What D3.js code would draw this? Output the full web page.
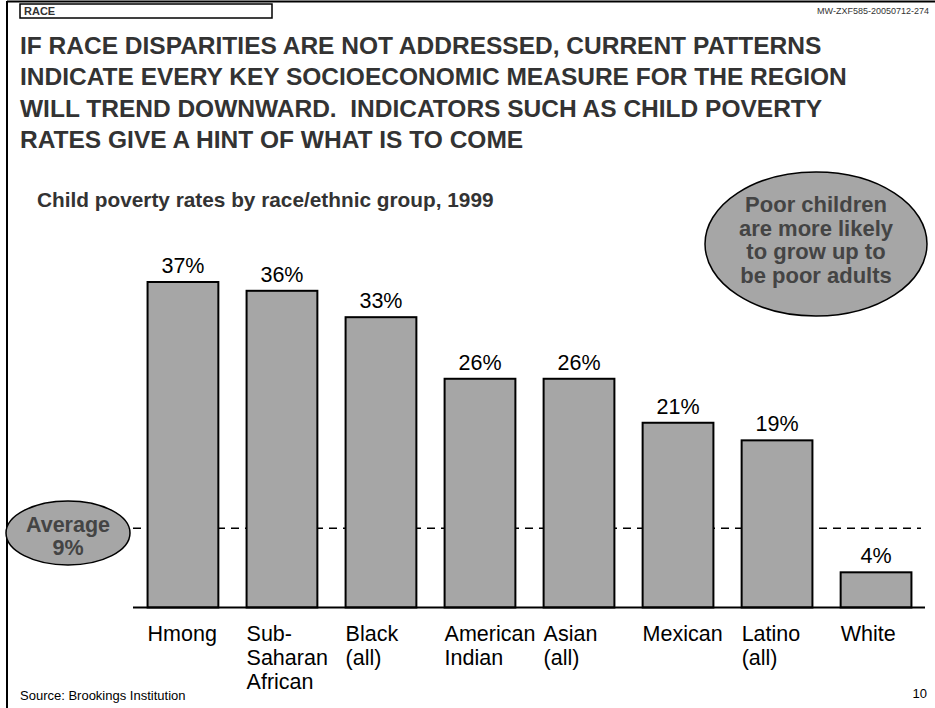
<!DOCTYPE html>
<html><head><meta charset="utf-8">
<script src="https://cdn.jsdelivr.net/npm/d3@7"></script>
<style>body{margin:0;background:#fff}svg{display:block;font-family:"Liberation Sans",Arial,sans-serif}</style>
</head><body>
<script>
const categories = [["Hmong"],["Sub-","Saharan","African"],["Black","(all)"],["American","Indian"],["Asian","(all)"],["Mexican"],["Latino","(all)"],["White"]];
const values = [37,36,33,26,26,21,19,4];
const average = 9;
const titleLines = ["IF RACE DISPARITIES ARE NOT ADDRESSED, CURRENT PATTERNS","INDICATE EVERY KEY SOCIOECONOMIC MEASURE FOR THE REGION","WILL TREND DOWNWARD.  INDICATORS SUCH AS CHILD POVERTY","RATES GIVE A HINT OF WHAT IS TO COME"];
const subtitle = "Child poverty rates by race/ethnic group, 1999";
const calloutLines = ["Poor children","are more likely","to grow up to","be poor adults"];
const avgLines = ["Average","9%"];

const W=935,H=708;
const svg=d3.select("body").append("svg").attr("width",W).attr("height",H);

// frame
svg.append("line").attr("x1",7).attr("x2",W).attr("y1",1.5).attr("y2",1.5).attr("stroke","#000").attr("stroke-width",2);
svg.append("line").attr("x1",7).attr("x2",7).attr("y1",1).attr("y2",H).attr("stroke","#000").attr("stroke-width",2);
svg.append("rect").attr("x",20).attr("y",4).attr("width",252).attr("height",14).attr("fill","none").attr("stroke","#000").attr("stroke-width",1.5);
svg.append("text").attr("x",24).attr("y",15).attr("font-size",11).attr("font-weight","bold").attr("fill","#333").text("RACE");
svg.append("text").attr("x",929).attr("y",14).attr("font-size",9).attr("text-anchor","end").attr("fill","#333").text("MW-ZXF585-20050712-274");

svg.append("g").selectAll("text").data(titleLines).join("text")
  .attr("x",20).attr("y",(d,i)=>54+i*31.3).attr("font-size",24.5).attr("font-weight","bold").attr("fill","#333")
  .attr("xml:space","preserve").style("white-space","pre").text(d=>d);

svg.append("text").attr("x",37).attr("y",207).attr("font-size",20.8).attr("font-weight","bold").attr("fill","#333").text(subtitle);

// scales
const x=d3.scaleBand().domain(d3.range(values.length)).range([133.5,925.5]).paddingInner(0.285).paddingOuter(0.142);
const y=d3.scaleLinear().domain([0,37]).range([607.5,282]);

// average line
svg.append("line").attr("x1",133).attr("x2",921).attr("y1",y(average)).attr("y2",y(average))
  .attr("stroke","#000").attr("stroke-width",1.5).attr("stroke-dasharray","8,6");

svg.append("g").selectAll("rect").data(values).join("rect")
  .attr("x",(d,i)=>x(i)).attr("width",x.bandwidth()).attr("y",d=>y(d)).attr("height",d=>y(0)-y(d))
  .attr("fill","#a6a6a6").attr("stroke","#000").attr("stroke-width",2);

svg.append("g").selectAll("text").data(values).join("text")
  .attr("x",(d,i)=>x(i)+x.bandwidth()/2).attr("y",d=>y(d)-9).attr("text-anchor","middle")
  .attr("font-size",21.5).attr("fill","#000").text(d=>d+"%");

// axis baseline
svg.append("line").attr("x1",133).attr("x2",925).attr("y1",y(0)).attr("y2",y(0)).attr("stroke","#000").attr("stroke-width",2);

const lab=svg.append("g").selectAll("text").data(categories).join("text")
  .attr("x",(d,i)=>x(i)).attr("y",641).attr("font-size",21.5).attr("fill","#000");
lab.selectAll("tspan").data(d=>d).join("tspan").attr("x",function(){return this.parentNode.getAttribute("x");})
  .attr("dy",(d,i)=>i===0?0:24).text(d=>d);

// average ellipse
svg.append("ellipse").attr("cx",68).attr("cy",533).attr("rx",62).attr("ry",32).attr("fill","#a6a6a6").attr("stroke","#000").attr("stroke-width",1.5);
svg.append("g").selectAll("text").data(avgLines).join("text").attr("x",68).attr("y",(d,i)=>532+i*23)
  .attr("text-anchor","middle").attr("font-size",21.5).attr("font-weight","bold").attr("fill","#444").text(d=>d);

// callout ellipse
svg.append("ellipse").attr("cx",816).attr("cy",244).attr("rx",111).attr("ry",72).attr("fill","#a6a6a6").attr("stroke","#000").attr("stroke-width",1.5);
svg.append("g").selectAll("text").data(calloutLines).join("text").attr("x",816).attr("y",(d,i)=>212+i*23.7)
  .attr("text-anchor","middle").attr("font-size",22).attr("font-weight","bold").attr("fill","#444").text(d=>d);

svg.append("text").attr("x",20).attr("y",700).attr("font-size",13).attr("fill","#000").text("Source: Brookings Institution");
svg.append("text").attr("x",927).attr("y",698).attr("font-size",13).attr("text-anchor","end").attr("fill","#000").text("10");
</script>
</body></html>
